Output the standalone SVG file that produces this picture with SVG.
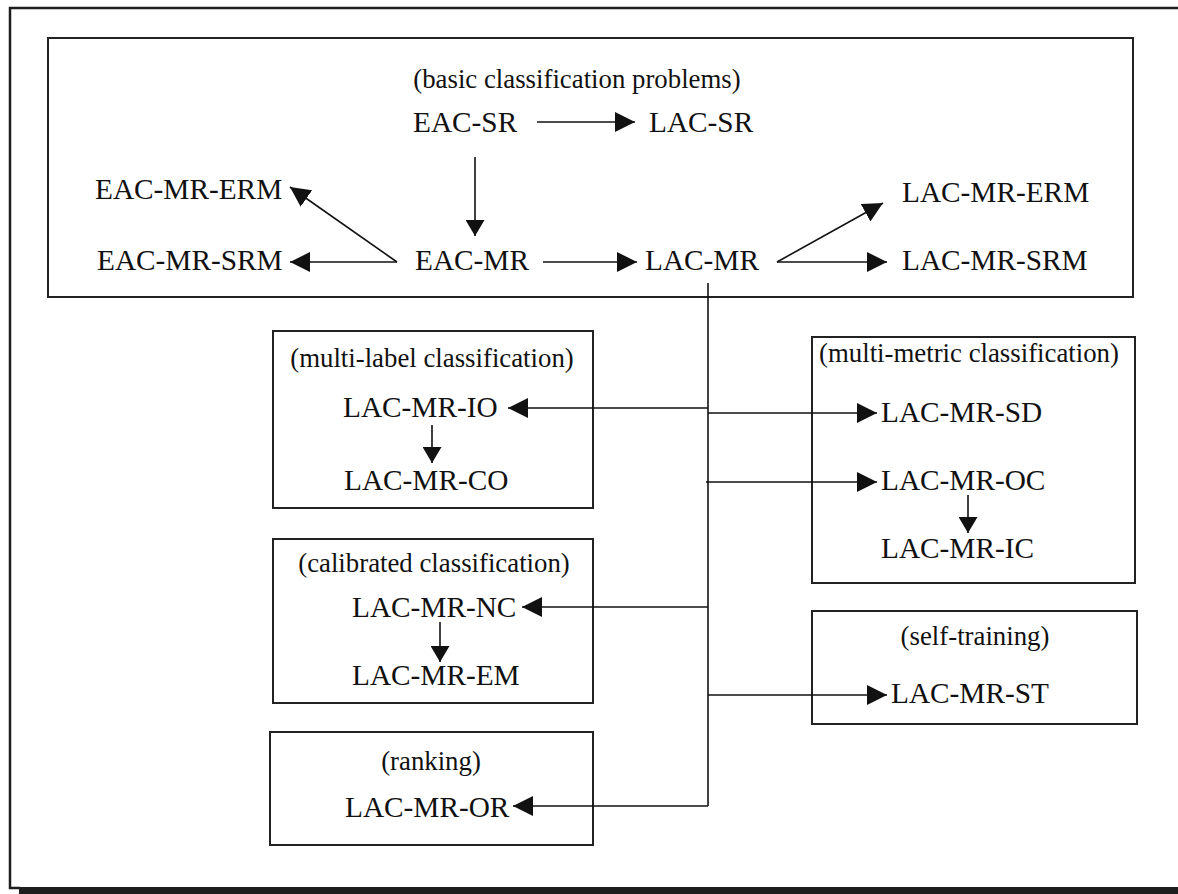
<svg xmlns="http://www.w3.org/2000/svg" width="1178" height="894" viewBox="0 0 1178 894">
  <style>
    .frame { fill: none; stroke: #1e1e1e; stroke-width: 2.5; }
    .box { fill: none; stroke: #222; stroke-width: 2; }
    .edge { fill: none; stroke: #111; stroke-width: 1.6; }
    .node { font-family: "Liberation Serif", "Times New Roman", serif; font-size: 29.3px; fill: #111; }
    .label { font-family: "Liberation Serif", "Times New Roman", serif; font-size: 26.8px; fill: #111; text-anchor: middle; }
  </style>
  <defs>
    <marker id="head" markerUnits="userSpaceOnUse" markerWidth="20" markerHeight="20" refX="20" refY="10" orient="auto">
      <path d="M0,0 L20,10 L0,20 Z" fill="#111"/>
    </marker>
    <marker id="head-small" markerUnits="userSpaceOnUse" markerWidth="17" markerHeight="19" refX="16" refY="9.5" orient="auto">
      <path d="M0,0 L16,9.5 L0,19 Z" fill="#111"/>
    </marker>
  </defs>

  <rect width="1178" height="894" fill="#fff"/>

  <!-- outer page frame with heavy bottom rule -->
  <g id="page-frame">
    <path class="frame" d="M1178,8 H10 V888 H20"/>
    <rect x="19" y="887" width="1159" height="7" fill="#1e1e1e"/>
  </g>

  <!-- group frames -->
  <g id="basic">
    <rect class="box" x="48" y="38" width="1085" height="259"/>
    <text class="label" x="577" y="88">(basic classification problems)</text>
  </g>
  <g id="multi-label">
    <rect class="box" x="273" y="331" width="320" height="177"/>
    <text class="label" x="432" y="367">(multi-label classification)</text>
  </g>
  <g id="multi-metric">
    <rect class="box" x="812" y="337" width="323" height="246"/>
    <text class="label" x="969" y="362">(multi-metric classification)</text>
  </g>
  <g id="calibrated">
    <rect class="box" x="273" y="539" width="320" height="164"/>
    <text class="label" x="434" y="572">(calibrated classification)</text>
  </g>
  <g id="self-training">
    <rect class="box" x="812" y="611" width="325" height="113"/>
    <text class="label" x="975" y="645">(self-training)</text>
  </g>
  <g id="ranking">
    <rect class="box" x="270" y="732" width="323" height="113"/>
    <text class="label" x="431" y="770">(ranking)</text>
  </g>

  <!-- method nodes -->
  <g id="eac-sr"><text class="node" x="413" y="132">EAC-SR</text></g>
  <g id="lac-sr"><text class="node" x="649" y="132">LAC-SR</text></g>
  <g id="eac-mr-erm"><text class="node" x="95" y="199">EAC-MR-ERM</text></g>
  <g id="eac-mr-srm"><text class="node" x="97" y="270">EAC-MR-SRM</text></g>
  <g id="eac-mr"><text class="node" x="415" y="270">EAC-MR</text></g>
  <g id="lac-mr"><text class="node" x="645" y="270">LAC-MR</text></g>
  <g id="lac-mr-erm"><text class="node" x="902" y="202">LAC-MR-ERM</text></g>
  <g id="lac-mr-srm"><text class="node" x="902" y="270">LAC-MR-SRM</text></g>
  <g id="lac-mr-io"><text class="node" x="343" y="417">LAC-MR-IO</text></g>
  <g id="lac-mr-co"><text class="node" x="344" y="490">LAC-MR-CO</text></g>
  <g id="lac-mr-sd"><text class="node" x="881" y="422">LAC-MR-SD</text></g>
  <g id="lac-mr-oc"><text class="node" x="881" y="490">LAC-MR-OC</text></g>
  <g id="lac-mr-ic"><text class="node" x="881" y="558">LAC-MR-IC</text></g>
  <g id="lac-mr-nc"><text class="node" x="352" y="617">LAC-MR-NC</text></g>
  <g id="lac-mr-em"><text class="node" x="352" y="685">LAC-MR-EM</text></g>
  <g id="lac-mr-st"><text class="node" x="891" y="703">LAC-MR-ST</text></g>
  <g id="lac-mr-or"><text class="node" x="345" y="817">LAC-MR-OR</text></g>

  <!-- connectors -->
  <g id="connectors">
    <path class="edge" d="M537,122 H635" marker-end="url(#head)"/>
    <path class="edge" d="M475,157 V236" marker-end="url(#head-small)"/>
    <path class="edge" d="M397,262 L290,187" marker-end="url(#head)"/>
    <path class="edge" d="M397,262 H290" marker-end="url(#head)"/>
    <path class="edge" d="M543,262 H637" marker-end="url(#head)"/>
    <path class="edge" d="M777,262 L883,203" marker-end="url(#head)"/>
    <path class="edge" d="M777,262 H887" marker-end="url(#head)"/>

    <!-- trunk from LAC-MR to the specialised variants -->
    <path class="edge" d="M708,283 V806"/>
    <path class="edge" d="M708,408 H508" marker-end="url(#head)"/>
    <path class="edge" d="M708,413 H877" marker-end="url(#head)"/>
    <path class="edge" d="M706,482 H877" marker-end="url(#head)"/>
    <path class="edge" d="M708,607 H522" marker-end="url(#head)"/>
    <path class="edge" d="M708,695 H887" marker-end="url(#head)"/>
    <path class="edge" d="M708,806 H513" marker-end="url(#head)"/>

    <path class="edge" d="M432,425 V463" marker-end="url(#head-small)"/>
    <path class="edge" d="M968,495 V533" marker-end="url(#head-small)"/>
    <path class="edge" d="M440,622 V662" marker-end="url(#head-small)"/>
  </g>
</svg>
